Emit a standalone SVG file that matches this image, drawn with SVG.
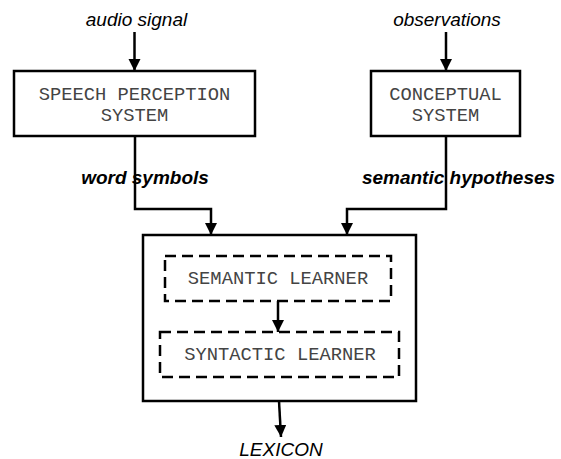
<svg xmlns="http://www.w3.org/2000/svg" width="561" height="459" viewBox="0 0 561 459">
<defs>
<style>
.box{fill:#fff;stroke:#000;stroke-width:2.5}
.dbox{fill:none;stroke:#000;stroke-width:2.5;stroke-dasharray:11 6}
.mono{font-family:"Liberation Mono","Courier New",monospace;font-size:18.8px;fill:#444;text-anchor:middle}
.lab{font-family:"Liberation Sans",Arial,sans-serif;font-size:19px;font-style:italic;fill:#000;text-anchor:middle}
.blab{font-family:"Liberation Sans",Arial,sans-serif;font-size:19px;font-style:italic;font-weight:bold;fill:#000;text-anchor:middle}
.conn{fill:none;stroke:#000;stroke-width:2.5;marker-end:url(#ah)}
</style>
<marker id="ah" markerUnits="userSpaceOnUse" markerWidth="12" markerHeight="14" viewBox="0 0 12 14" refX="12" refY="6" orient="auto">
<path d="M0,0 L12,6 L0,12 Z" fill="#000"/>
</marker>
</defs>
<rect width="561" height="459" fill="#fff"/>
<g id="labels">
<text class="lab" x="136.5" y="26">audio signal</text>
<text class="lab" x="447" y="26">observations</text>
<text class="blab" x="145" y="184">word symbols</text>
<text class="blab" x="458.5" y="184">semantic hypotheses</text>
<text class="lab" x="281" y="456">LEXICON</text>
</g>
<g id="speech">
<rect class="box" x="14" y="71" width="241" height="65"/>
<text class="mono" x="134.5" y="99.5">SPEECH PERCEPTION</text>
<text class="mono" x="134.5" y="120.5">SYSTEM</text>
</g>
<g id="conceptual">
<rect class="box" x="371" y="71" width="149" height="65"/>
<text class="mono" x="445.5" y="99.5">CONCEPTUAL</text>
<text class="mono" x="445.5" y="120.5">SYSTEM</text>
</g>
<g id="learner">
<rect class="box" x="143" y="235" width="273" height="166"/>
</g>
<g id="semantic">
<rect class="dbox" x="165" y="256" width="226" height="45"/>
<text class="mono" x="278" y="284">SEMANTIC LEARNER</text>
</g>
<g id="syntactic">
<rect class="dbox" x="160" y="332" width="239" height="45"/>
<text class="mono" x="280" y="360">SYNTACTIC LEARNER</text>
</g>
<g id="connectors">
<path class="conn" d="M134.5,32 L134.5,71"/>
<path class="conn" d="M446,32 L446,71"/>
<path class="conn" d="M135,136 L135,209 L211,209 L211,235"/>
<path class="conn" d="M446,136 L446,209 L347,209 L347,235"/>
<path class="conn" d="M278,301 L278,332"/>
<path class="conn" d="M279,401 L281,437"/>
</g>
</svg>
